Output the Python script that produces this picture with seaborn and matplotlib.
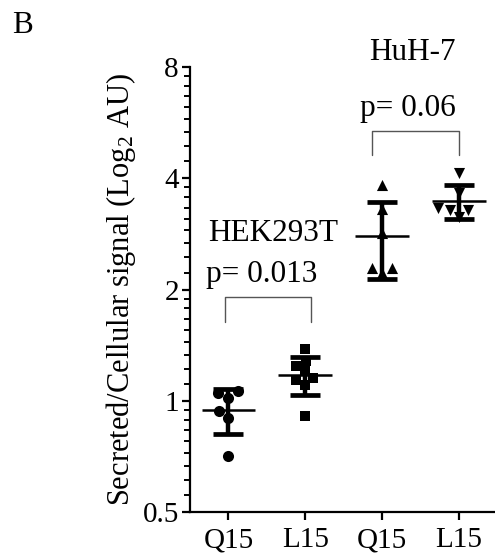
import numpy as np
import pandas as pd
import matplotlib
matplotlib.use("Agg")
import matplotlib.pyplot as plt
from matplotlib.ticker import FixedLocator, NullFormatter
import seaborn as sns

# ---------------- data ----------------
groups = ["HEK293T Q15", "HEK293T L15", "HuH-7 Q15", "HuH-7 L15"]
tick_labels = ["Q15", "L15", "Q15", "L15"]
hek_q15 = [1.06, 1.05, 1.02, 0.94, 0.90, 0.71]
hek_l15 = [1.38, 1.28, 1.24, 1.20, 1.14, 1.15, 1.10, 0.91]
huh_q15 = [3.84, 3.30, 2.85, 2.29, 2.29, 2.22]
huh_l15 = [4.14, 3.65, 3.33, 3.29, 3.29, 3.15]
cell_lines = ["HEK293T", "HuH-7"]
p_values = ["p= 0.013", "p= 0.06"]
y_ticks = [0.5, 1, 2, 4, 8]
y_tick_labels = ["0.5", "1", "2", "4", "8"]
y_label = "Secreted/Cellular signal (Log$\\mathregular{_2}$ AU)"
panel_label = "B"

series = [hek_q15, hek_l15, huh_q15, huh_l15]
markers = ["o", "s", "^", "v"]
msizes = [8.0, 7.5, 8.0, 8.0]

df = pd.DataFrame({
    "group": np.concatenate([[g] * len(v) for g, v in zip(groups, series)]),
    "value": np.concatenate(series),
})

# ---------------- style ----------------
sns.set_style("ticks")
plt.rcParams["font.family"] = ["Liberation Serif", "DejaVu Serif"]
plt.rcParams["mathtext.fontset"] = "custom"
plt.rcParams["mathtext.rm"] = "Liberation Serif"
for key in ["text.color", "axes.labelcolor", "xtick.color", "ytick.color", "axes.edgecolor"]:
    plt.rcParams[key] = "black"
FS_TICK = 21
FS_LABEL = 22
FS_ANN = 22.5

fig = plt.figure(figsize=(4.95, 5.56), dpi=100)
ax = fig.add_axes([190 / 495, 1 - 512 / 556, (495 - 190) / 495, (512 - 67) / 556])
ax.set_yscale("log", base=2)
ax.set_ylim(0.5, 8)

for g, m, s in zip(groups, markers, msizes):
    sns.swarmplot(data=df[df["group"] == g], x="group", y="value", order=groups,
                  marker=m, color="black", size=s, ax=ax, zorder=2, warn_thresh=1)

for i, vals in enumerate(series):
    mu = np.mean(vals)
    sd = np.std(vals, ddof=1)
    ax.errorbar(i, mu, yerr=sd, fmt="none", ecolor="black", elinewidth=3.2,
                capsize=11, capthick=3.4, zorder=3)
    ax.hlines(mu, i - 0.35, i + 0.35, color="black", lw=1.8, zorder=3)

ax.set_xlim(-0.5, 3.47)
ax.set_ylim(0.5, 8)
ax.set_xticks(range(len(groups)))
ax.set_xticklabels(tick_labels, fontsize=FS_TICK)
ax.set_xlabel("")
ax.yaxis.set_major_locator(FixedLocator(y_ticks))
ax.set_yticklabels(y_tick_labels, fontsize=FS_TICK)
minor = []
for a in y_ticks[:-1]:
    minor += [a + a * k / 9 for k in range(1, 9)]
ax.yaxis.set_minor_locator(FixedLocator(minor))
ax.yaxis.set_minor_formatter(NullFormatter())
ax.set_ylabel(y_label, fontsize=FS_LABEL, labelpad=3)

for sp in ["top", "right"]:
    ax.spines[sp].set_visible(False)
for sp in ["left", "bottom"]:
    ax.spines[sp].set_linewidth(1.6)
    ax.spines[sp].set_color("black")
ax.tick_params(axis="both", which="major", length=6, width=1.6, color="black",
               labelcolor="black", direction="out", pad=2)
ax.tick_params(axis="x", pad=5)
ax.tick_params(axis="y", which="minor", length=4, width=1.4, color="black")

# annotations: cell-line names, p values and brackets
brackets = [(-0.05, 1.08, 1.63, 1.91), (1.87, 3.0, 4.62, 5.37)]
name_pos = [(0.584, 2.84), (2.39, 8.73)]
p_pos = [(0.43, 2.19), (2.34, 6.19)]
for name, p, (x0, x1, yb, yt), npos, ppos in zip(cell_lines, p_values, brackets, name_pos, p_pos):
    ax.plot([x0, x0, x1, x1], [yb, yt, yt, yb], color="#555555", lw=1.0,
            clip_on=False, solid_joinstyle="round")
    ax.text(npos[0], npos[1], name, ha="center", va="center", fontsize=FS_ANN,
            color="black", clip_on=False)
    ax.text(ppos[0], ppos[1], p, ha="center", va="center", fontsize=FS_ANN,
            color="black", clip_on=False)

fig.text(12 / 495, 1 - 33 / 556, panel_label, fontsize=FS_ANN, ha="left",
         va="baseline", color="black")

fig.savefig("out.png", dpi=100)
